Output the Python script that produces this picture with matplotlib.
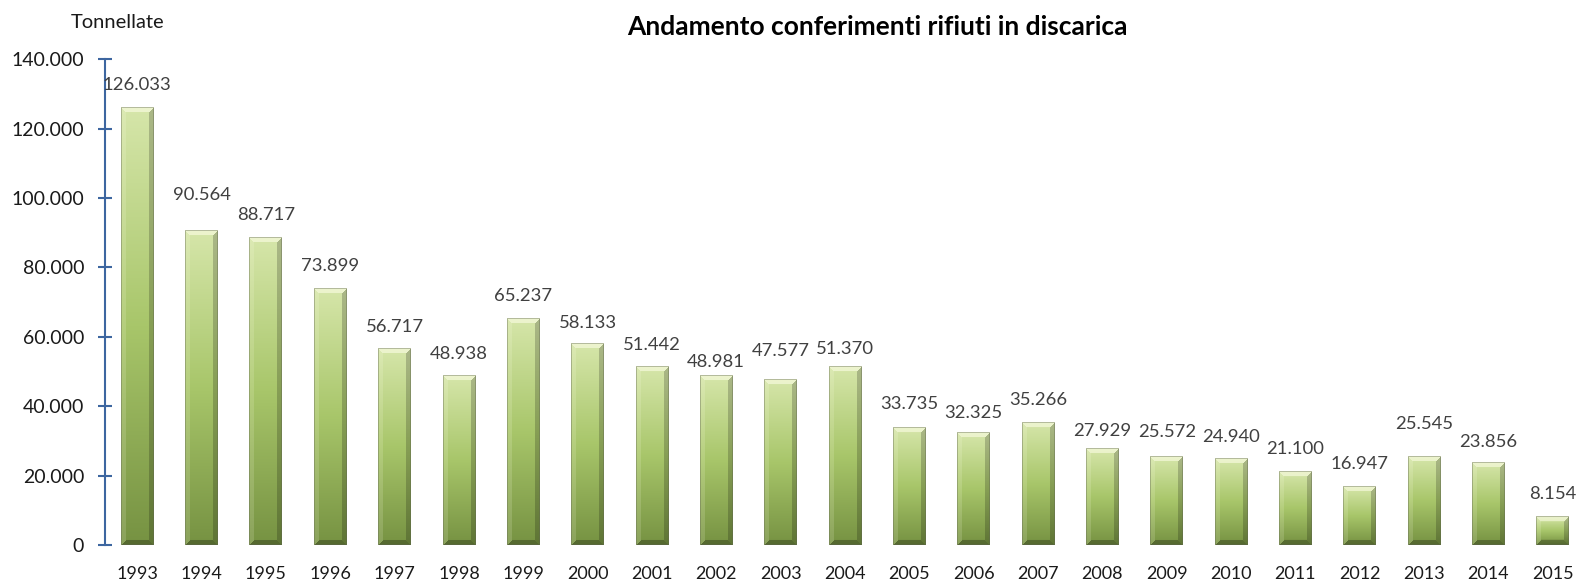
import numpy as np
import matplotlib
matplotlib.use("Agg")
import matplotlib.pyplot as plt

# Data
years = ["1993", "1994", "1995", "1996", "1997", "1998", "1999", "2000", "2001",
         "2002", "2003", "2004", "2005", "2006", "2007", "2008", "2009", "2010",
         "2011", "2012", "2013", "2014", "2015"]
tonnes = [126033, 90564, 88717, 73899, 56717, 48938, 65237, 58133, 51442,
          48981, 47577, 51370, 33735, 32325, 35266, 27929, 25572, 24940,
          21100, 16947, 25545, 23856, 8154]
yticks = [0, 20000, 40000, 60000, 80000, 100000, 120000, 140000]

# Label gap above each bar (pixels)
label_gap_px = [21, 34, 20.5, 21, 20, 20, 21, 19, 20.5, 12, 28, 16, 23, 18, 21,
                16, 23, 20.5, 21, 20.5, 31, 19, 21]

plt.rcParams['font.family'] = ['Lato', 'DejaVu Sans']

W, H, DPI = 1577, 581, 100
fig = plt.figure(figsize=(W / DPI, H / DPI), dpi=DPI)
ax = fig.add_axes([105 / W, 1 - 545 / H, 1480 / W, (545 - 59.3) / H])

n = len(years)
xpos = np.arange(n)
bar_w = 0.51
ax.set_xlim(-0.5, n - 0.5)
ax.set_ylim(0, 140000)


def thousands(v):
    return f"{v:,.0f}".replace(",", ".")


top_c = np.array([214, 230, 170]) / 255
mid_c = np.array([168, 198, 106]) / 255
bot_c = np.array([118, 146, 66]) / 255


def bar_image(wpx, hpx):
    wpx = max(int(round(wpx)), 2)
    hpx = max(int(round(hpx)), 2)
    t = np.linspace(0, 1, hpx)[:, None]
    col = np.where(t < 0.5,
                   top_c + (mid_c - top_c) * (t / 0.5),
                   mid_c + (bot_c - mid_c) * ((t - 0.5) / 0.5))
    img = np.repeat(col[:, None, :], wpx, axis=1).reshape(hpx, wpx, 3).copy()
    r = np.arange(hpx)[:, None] * np.ones((1, wpx))
    c = np.ones((hpx, 1)) * np.arange(wpx)[None, :]
    dl, dr = c, wpx - 1 - c
    dt, db = r, hpx - 1 - r
    d = np.stack([dt, dl, dr, db])
    facet = np.argmin(d, axis=0)
    dmin = np.min(d, axis=0)
    b = 5
    inb = dmin < b
    # bevelled edges: bright top, soft left highlight, darker right and bottom
    light = np.array([1.0, 1.0, 0.92])
    topm = inb & (facet == 0)
    img[topm] = img[topm] * 0.45 + light * 0.55
    leftm = inb & (facet == 1)
    img[leftm] = img[leftm] * 0.85 + light * 0.15
    rightm = inb & (facet == 2)
    img[rightm] = img[rightm] * 0.8
    botm = inb & (facet == 3)
    img[botm] = img[botm] * 0.72
    edge = dmin < 1
    img[edge] = img[edge] * 0.6 + np.array([0.38, 0.40, 0.32]) * 0.4
    return np.clip(img, 0, 1)


fig.canvas.draw()
to_px = ax.transData
for x, v, gap in zip(xpos, tonnes, label_gap_px):
    x0, x1 = x - bar_w / 2, x + bar_w / 2
    (px0, py0) = to_px.transform((x0, 0))
    (px1, py1) = to_px.transform((x1, v))
    img = bar_image(px1 - px0, py1 - py0)
    ax.imshow(img, extent=(x0, x1, 0, v), aspect='auto', origin='upper',
              interpolation='bilinear', zorder=2)
    ax.annotate(thousands(v), (x, v), xytext=(0, gap * 72 / DPI + 1),
                textcoords='offset points', ha='center', va='center',
                fontsize=13.3, color='#404040', zorder=3)

ax.set_xlim(-0.5, n - 0.5)
ax.set_ylim(0, 140000)

axis_blue = '#3d66a0'
for s in ['top', 'right', 'bottom']:
    ax.spines[s].set_visible(False)
ax.spines['left'].set_color(axis_blue)
ax.spines['left'].set_linewidth(1.5)

ax.set_yticks(yticks)
ax.set_yticklabels([thousands(v) for v in yticks])
ax.tick_params(axis='y', direction='inout', length=10, width=1.5,
               color=axis_blue, labelsize=14, labelcolor='#1a1a1a', pad=10)
ax.set_xticks(xpos)
ax.set_xticklabels(years)
ax.tick_params(axis='x', length=0, labelsize=13, labelcolor='#1a1a1a', pad=15)

fig.text(118 / W, 1 - 22 / H, "Tonnellate", ha='center', va='center',
         fontsize=14.5, color='#1a1a1a')
fig.text(877 / W, 1 - 27 / H, "Andamento conferimenti rifiuti in discarica",
         ha='center', va='center', fontsize=19, fontweight='bold',
         color='#000000')

fig.savefig("out.png", dpi=DPI)
